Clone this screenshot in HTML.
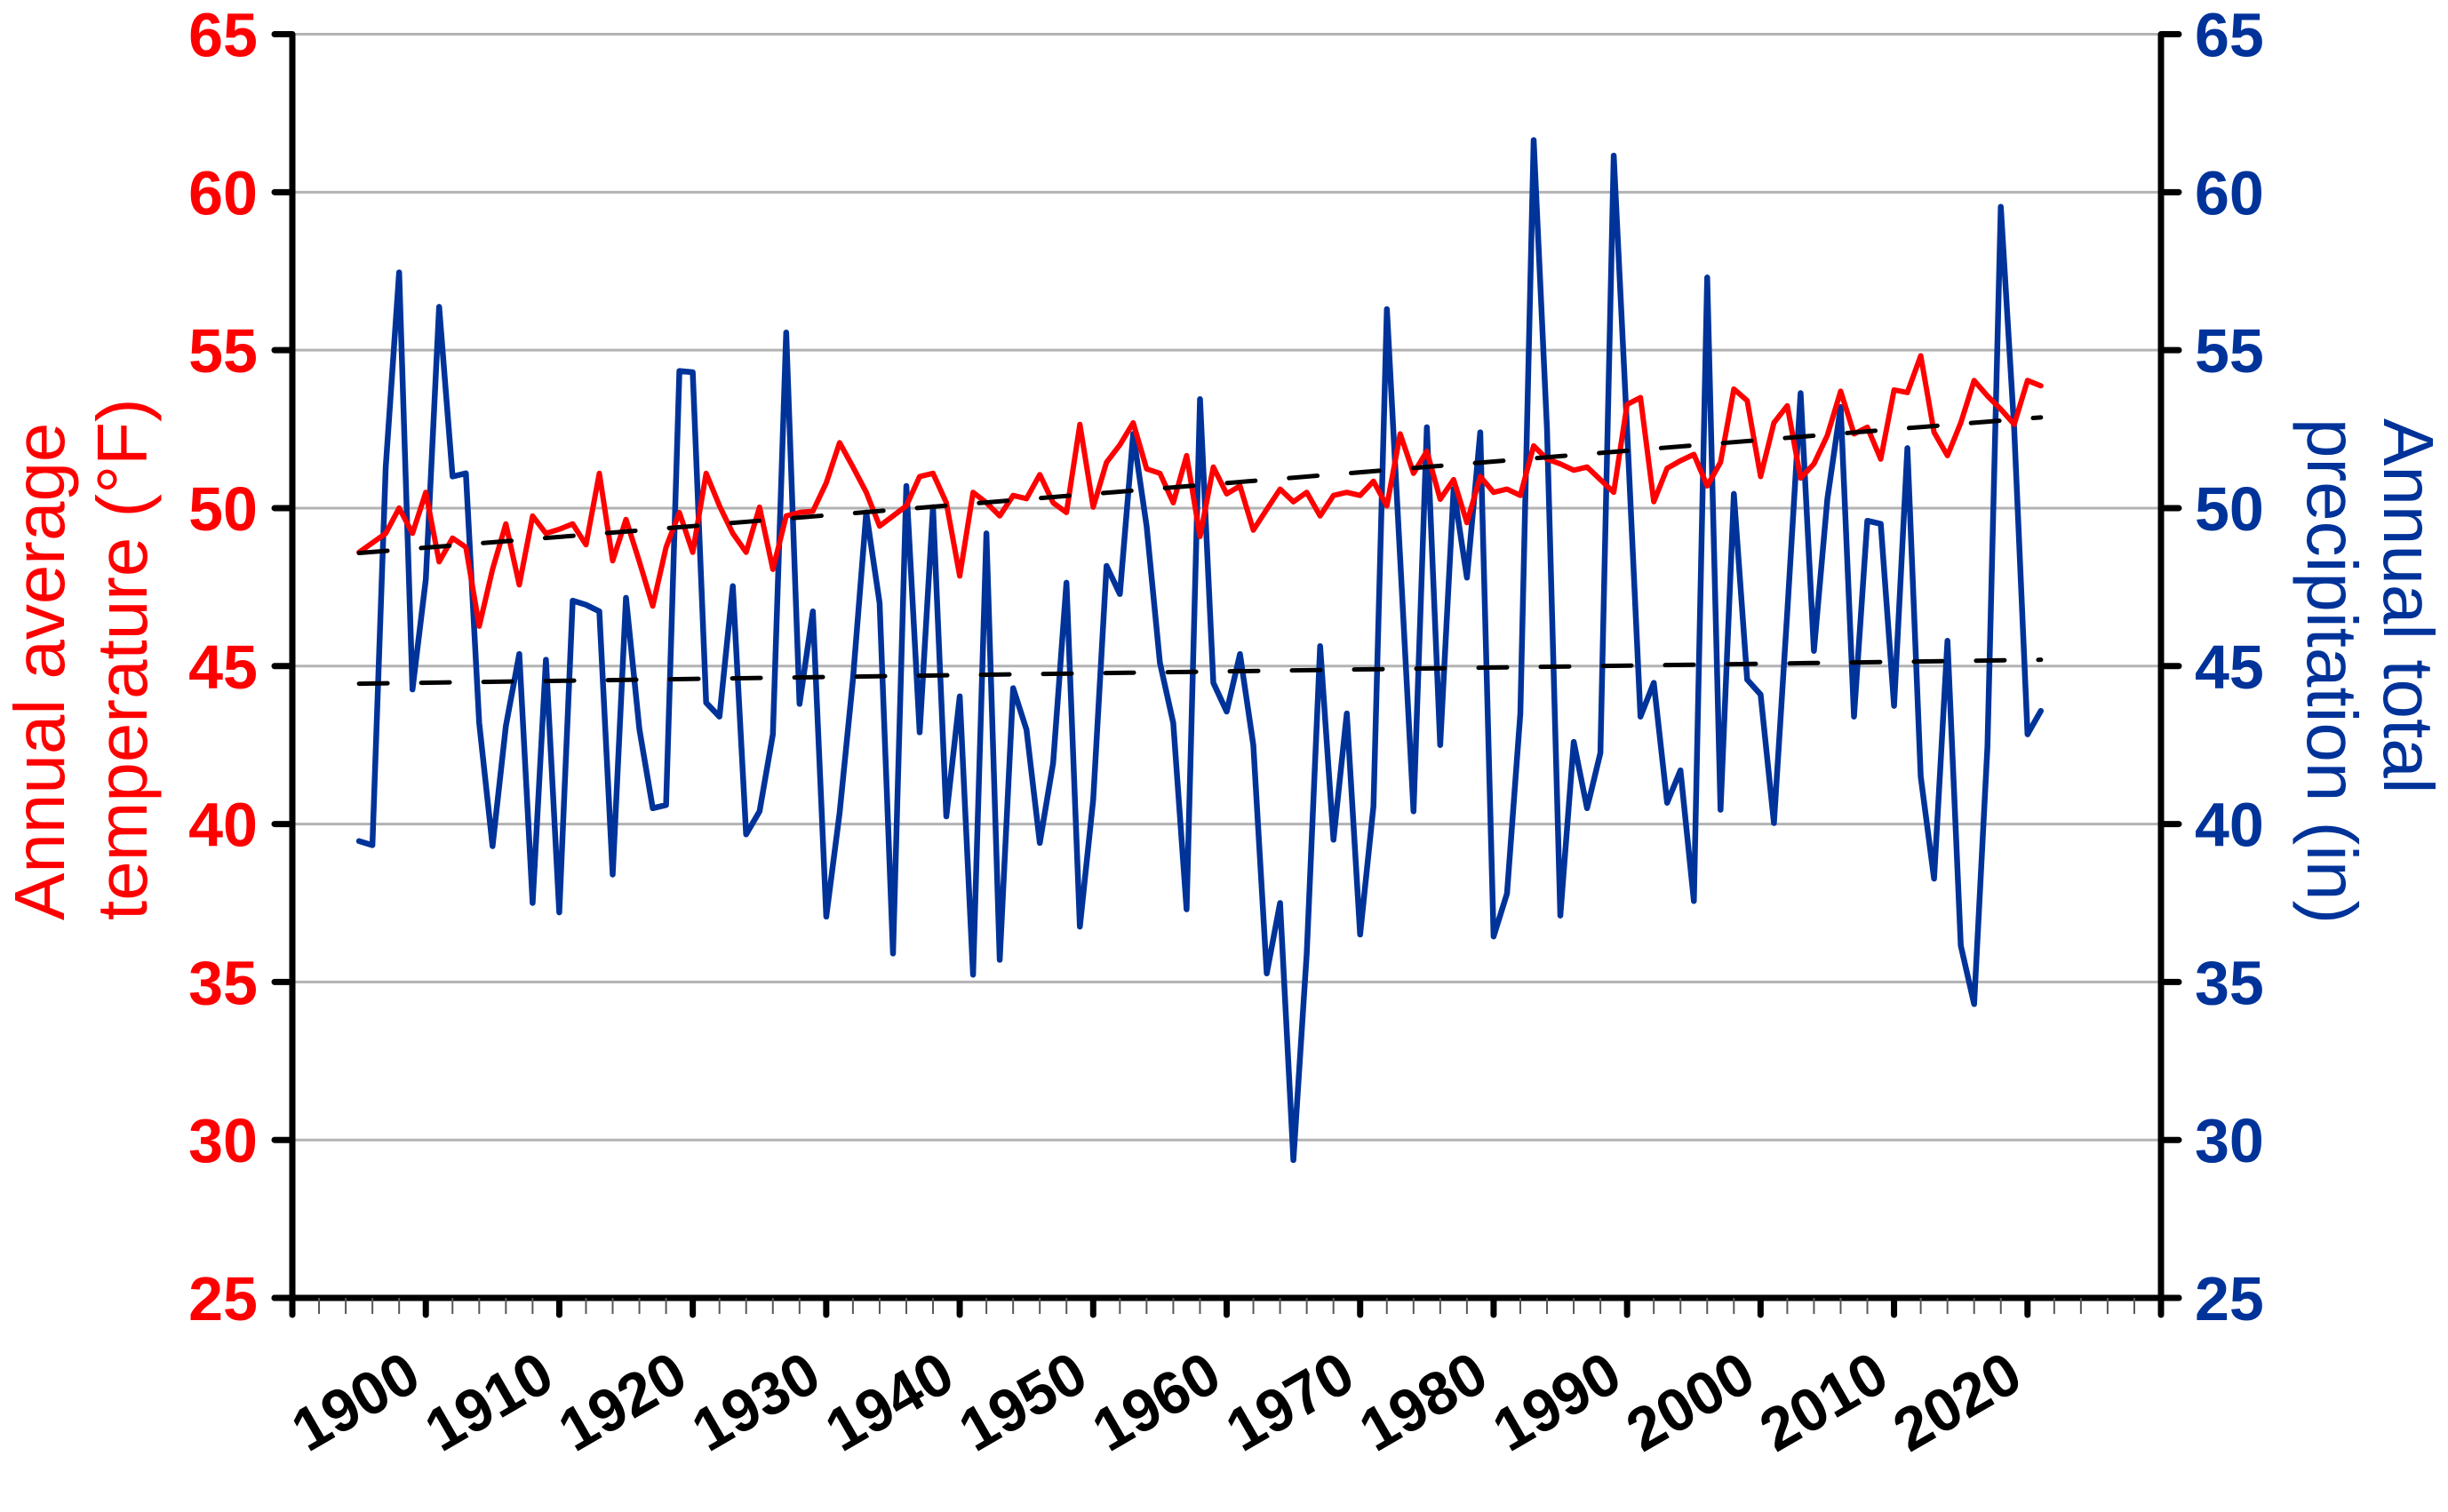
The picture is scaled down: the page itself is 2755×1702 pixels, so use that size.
<!DOCTYPE html>
<html>
<head>
<meta charset="utf-8">
<style>
  html, body { margin: 0; padding: 0; background: #ffffff; }
  svg { display: block; }
  text { font-family: "Liberation Sans", Arial, sans-serif; }
</style>
</head>
<body>
<svg id="chart" xmlns="http://www.w3.org/2000/svg" width="2755" height="1702" viewBox="0 0 2755 1702">
  <rect x="0" y="0" width="2755" height="1702" fill="#ffffff"/>
  <g id="grid"></g>
  <g id="series"></g>
  <g id="axes"></g>
  <g id="labels"></g>
  <text fill="#ff0000" font-size="80" text-anchor="start" transform="translate(72,1036) rotate(-90)">Annual average</text>
  <text fill="#ff0000" font-size="80" text-anchor="start" transform="translate(165,1036) rotate(-90)">temperature (°F)</text>
  <text fill="#003399" font-size="80" text-anchor="start" transform="translate(2683,471) rotate(90)">Annual total</text>
  <text fill="#003399" font-size="80" text-anchor="start" transform="translate(2597,471) rotate(90)">precipitation (in)</text>
</svg>
<script>
const startYear = 1895;
const temperatureF = [
  48.6, 48.9, 49.2, 50.0, 49.2, 50.5, 48.3, 49.05, 48.76, 46.26,
  48.06, 49.5, 47.57, 49.75, 49.2, 49.33, 49.5, 48.84, 51.1, 48.33,
  49.64, 48.3, 46.9, 48.76, 49.86, 48.6, 51.1, 50.07, 49.2, 48.6,
  50.03, 48.06, 49.75, 49.86, 49.9, 50.8, 52.07, 51.3, 50.5, 49.43,
  49.75, 50.07, 51.0, 51.1, 50.17, 47.85, 50.5, 50.17, 49.75, 50.4,
  50.3, 51.06, 50.17, 49.86, 52.65, 50.03, 51.45, 52.0, 52.7, 51.24,
  51.1, 50.17, 51.66, 49.1, 51.3, 50.45, 50.7, 49.3, 49.96, 50.6,
  50.2, 50.5, 49.75, 50.4, 50.5, 50.4, 50.85, 50.07, 52.35, 51.1,
  51.8, 50.28, 50.9, 49.54, 51.0, 50.5, 50.6, 50.4, 51.97, 51.55,
  51.4, 51.2, 51.3, 50.9, 50.5, 53.28, 53.5, 50.2, 51.26, 51.5,
  51.7, 50.7, 51.45, 53.77, 53.4, 51.0, 52.7, 53.24, 50.95, 51.4,
  52.3, 53.7, 52.35, 52.56, 51.55, 53.74, 53.66, 54.82, 52.4, 51.66,
  52.7, 54.04, 53.55, 53.13, 52.65, 54.04, 53.87
];
const precipitationIn = [
  39.46, 39.33, 51.3, 57.46, 44.26, 47.74, 56.37, 51.0, 51.1, 43.2,
  39.3, 43.1, 45.38, 37.5, 45.2, 37.2, 47.07, 46.94, 46.73, 38.4,
  47.16, 43.0, 40.5, 40.6, 54.34, 54.3, 43.84, 43.4, 47.53, 39.67,
  40.4, 42.84, 55.56, 43.8, 46.73, 37.07, 40.35, 44.57, 49.86, 47.0,
  35.9, 50.7, 42.9, 50.03, 40.24, 44.04, 35.23, 49.2, 35.7, 44.3,
  42.99, 39.4, 41.93, 47.64, 36.75, 40.77, 48.17, 47.28, 52.35, 49.43,
  45.1, 43.2, 37.3, 53.45, 44.47, 43.56, 45.38, 42.5, 35.27, 37.5,
  29.36, 35.9, 45.63, 39.5, 43.5, 36.5, 40.56, 56.3, 48.38, 40.4,
  52.56, 42.5, 50.6, 47.8, 52.4, 36.44, 37.8, 43.5, 61.65, 52.5,
  37.1, 42.6, 40.5, 42.25, 61.16, 52.5, 43.4, 44.47, 40.67, 41.7,
  37.56, 57.3, 40.45, 50.45, 44.57, 44.1, 40.03, 46.7, 53.64, 45.48,
  50.28, 53.2, 43.4, 49.6, 49.5, 43.74, 51.9, 41.5, 38.27, 45.8,
  36.15, 34.3, 42.45, 59.54, 52.5, 42.84, 43.58
];
const yTickValues = [25, 30, 35, 40, 45, 50, 55, 60, 65];
const xTickLabels = ["1900", "1910", "1920", "1930", "1940", "1950", "1960", "1970", "1980", "1990", "2000", "2010", "2020"];

const NS = "http://www.w3.org/2000/svg";
const PL = 329, PR = 2432, PT = 38.5, PB = 1461;
const X0 = 1890, X1 = 2030, Y0 = 25, Y1 = 65;
function xScale(yr) { return PL + (yr - X0) / (X1 - X0) * (PR - PL); }
function yScale(v) { return PB - (v - Y0) / (Y1 - Y0) * (PB - PT); }
function mk(tag, attrs, parent) {
  const el = document.createElementNS(NS, tag);
  for (const k in attrs) el.setAttribute(k, attrs[k]);
  parent.appendChild(el);
  return el;
}
const grid = document.getElementById('grid');
const series = document.getElementById('series');
const axes = document.getElementById('axes');
const labels = document.getElementById('labels');

// gridlines
yTickValues.forEach(v => {
  if (v === Y0) return;
  const g = mk('line', {x1: PL, x2: PR, y1: yScale(v), y2: yScale(v), stroke: '#b3b3b3', 'stroke-width': 3}, grid);
  
  
});

// series lines
function linePath(vals) {
  return vals.map((v, i) => (i ? 'L' : 'M') + xScale(startYear + i).toFixed(1) + ',' + yScale(v).toFixed(1)).join(' ');
}
function fit(vals) {
  const n = vals.length;
  let sx = 0, sy = 0, sxx = 0, sxy = 0;
  vals.forEach((v, i) => { const x = startYear + i; sx += x; sy += v; sxx += x * x; sxy += x * v; });
  const b = (n * sxy - sx * sy) / (n * sxx - sx * sx);
  const a = (sy - b * sx) / n;
  return [a, b];
}
const pp = mk('path', {d: linePath(precipitationIn), fill: 'none', stroke: '#003399', 'stroke-width': 6.5, 'stroke-linejoin': 'round', 'stroke-linecap': 'round'}, series);


const tp = mk('path', {d: linePath(temperatureF), fill: 'none', stroke: '#ff0000', 'stroke-width': 6, 'stroke-linejoin': 'round', 'stroke-linecap': 'round'}, series);



const lastYear = startYear + temperatureF.length - 1;
[[temperatureF, 'temperature-trend-line'], [precipitationIn, 'precipitation-trend-line']].forEach(([vals, name]) => {
  const [a, b] = fit(vals);
  const t = mk('line', {x1: xScale(startYear), y1: yScale(a + b * startYear), x2: xScale(lastYear), y2: yScale(a + b * lastYear), stroke: '#000', 'stroke-width': 5, 'stroke-dasharray': '32 38', 'stroke-linecap': 'round'}, series);
  
  
});

// axes
const la = mk('line', {x1: PL, x2: PL, y1: PT, y2: PB, stroke: '#000', 'stroke-width': 7}, axes);


const ra = mk('line', {x1: PR, x2: PR, y1: PT, y2: PB, stroke: '#000', 'stroke-width': 7}, axes);


const xa = mk('line', {x1: PL - 20, x2: PR + 20, y1: PB, y2: PB, stroke: '#000', 'stroke-width': 7, 'stroke-linecap': 'round'}, axes);



yTickValues.forEach(v => {
  const y = yScale(v);
  const lt = mk('line', {x1: PL - 20, x2: PL, y1: y, y2: y, stroke: '#000', 'stroke-width': 7, 'stroke-linecap': 'round'}, axes);
  
  
  const rt = mk('line', {x1: PR, x2: PR + 20, y1: y, y2: y, stroke: '#000', 'stroke-width': 7, 'stroke-linecap': 'round'}, axes);
  
  
  const l = mk('text', {x: 290, y: y + 25, 'text-anchor': 'end', 'font-size': 70, 'font-weight': 'bold', fill: '#ff0000'}, labels);
  l.textContent = v;
  
  
  const r = mk('text', {x: 2470, y: y + 25, 'text-anchor': 'start', 'font-size': 70, 'font-weight': 'bold', fill: '#003399'}, labels);
  r.textContent = v;
  
  
});

for (let yr = X0; yr <= X1; yr += 2) {
  const major = (yr % 10 === 0);
  const t = mk('line', {x1: xScale(yr), x2: xScale(yr), y1: PB, y2: PB + (major ? 19 : 18), stroke: major ? '#000' : '#555', 'stroke-width': major ? 7 : 2, 'stroke-linecap': major ? 'round' : 'butt'}, axes);
  
  
}
xTickLabels.forEach(lbl => {
  const x = xScale(+lbl);
  const t = mk('text', {x: 0, y: 0, 'text-anchor': 'end', 'font-size': 68, 'font-weight': 'bold', fill: '#000', transform: 'translate(' + (x - 2) + ',1560) rotate(-30)'}, labels);
  t.textContent = lbl;
  
  
});
</script>
</body>
</html>
